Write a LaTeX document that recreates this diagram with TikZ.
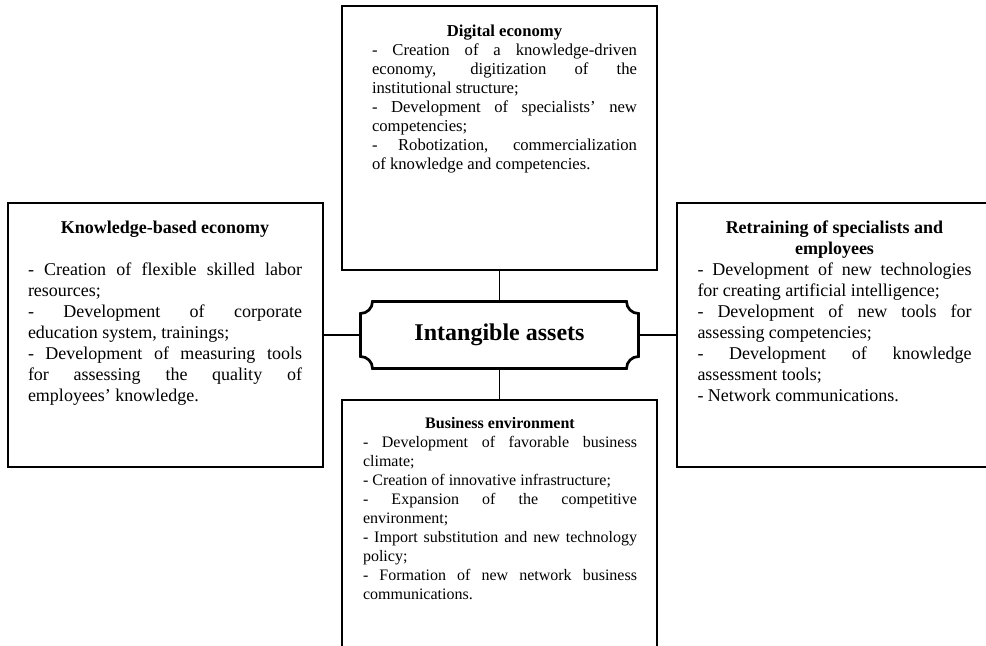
\documentclass[tikz,border=0pt]{standalone}
\usepackage{fontspec}
\setmainfont{Liberation Serif}
\begin{document}
\begin{tikzpicture} [x=0.75pt, y=-0.75pt, line width=1.1pt]
        \tikzset{
          panel/.style={draw, anchor=north west, inner sep=0pt, outer sep=0pt, minimum width=236.25pt, minimum height=198pt},
          paneltext/.style={anchor=north, inner sep=0pt, align=justify,
            execute at begin node={\parindent=0pt\tolerance=10000\hbadness=10000}},
          hubnode/.style={inner sep=0pt, outer sep=0pt, minimum width=208.5pt, minimum height=50.25pt,
            font=\fontsize{18}{21}\selectfont\bfseries},
        }
        \useasboundingbox (0,0) rectangle (986,646);
        \clip (0,0) rectangle (986,646);
        % 
        \node [panel] (de) at (342,6) {};
        \node [panel] (kb) at (8,203) {};
        \node [panel] (rt) at (677,203) {};
        \node [panel] (be) at (342,400) {};
        % 
        \node [paneltext, text width=198.75pt, font=\fontsize{12.5}{14.25}\selectfont] (detext) at (504.5,24) {%
          {\centering\bfseries Digital economy\par}
          - Creation of a knowledge-driven\linebreak economy, digitization of the\linebreak institutional structure;\par
          - Development of specialists’ new\linebreak competencies;\par
          - Robotization, commercialization\linebreak of knowledge and competencies.\par};
        \node [paneltext, text width=205.5pt, font=\fontsize{13.5}{15.75}\selectfont] (kbtext) at (165,220) {%
          {\centering\bfseries Knowledge-based economy\par}
          \vspace{15.75pt}
          - Creation of flexible skilled labor\linebreak resources;\par
          - Development of corporate\linebreak education system, trainings;\par
          - Development of measuring tools\linebreak for assessing the quality of\linebreak employees’ knowledge.\par};
        \node [paneltext, text width=205.5pt, font=\fontsize{13.5}{15.75}\selectfont] (rttext) at (834.5,220) {%
          {\centering\bfseries Retraining of specialists and\linebreak employees\par}
          - Development of new technologies\linebreak for creating artificial intelligence;\par
          - Development of new tools for\linebreak assessing competencies;\par
          - Development of knowledge\linebreak assessment tools;\par
          - Network communications.\par};
        \node [paneltext, text width=205.5pt, font=\fontsize{12}{14.25}\selectfont] (betext) at (500,417) {%
          {\centering\bfseries Business environment\par}
          - Development of favorable business\linebreak climate;\par
          - Creation of innovative infrastructure;\par
          - Expansion of the competitive\linebreak environment;\par
          - Import substitution and new technology\linebreak policy;\par
          - Formation of new network business\linebreak communications.\par};
        % 
        \node [hubnode] (ia) at (499.5,335) {Intangible assets};
        \draw [line width=2pt] ([xshift=9pt]ia.north west) -- ([xshift=-9pt]ia.north east)
          arc[start angle=180, end angle=270, radius=9pt] -- ([yshift=9pt]ia.south east)
          arc[start angle=90, end angle=180, radius=9pt] -- ([xshift=9pt]ia.south west)
          arc[start angle=0, end angle=90, radius=9pt] -- ([yshift=-9pt]ia.north west)
          arc[start angle=270, end angle=360, radius=9pt] -- cycle;
        % 
        \draw (de.south) -- (ia.north);
        \draw (ia.south) -- (be.north);
        \draw (kb.east) -- (ia.west);
        \draw (ia.east) -- (rt.west);
    \end{tikzpicture}
\end{document}
